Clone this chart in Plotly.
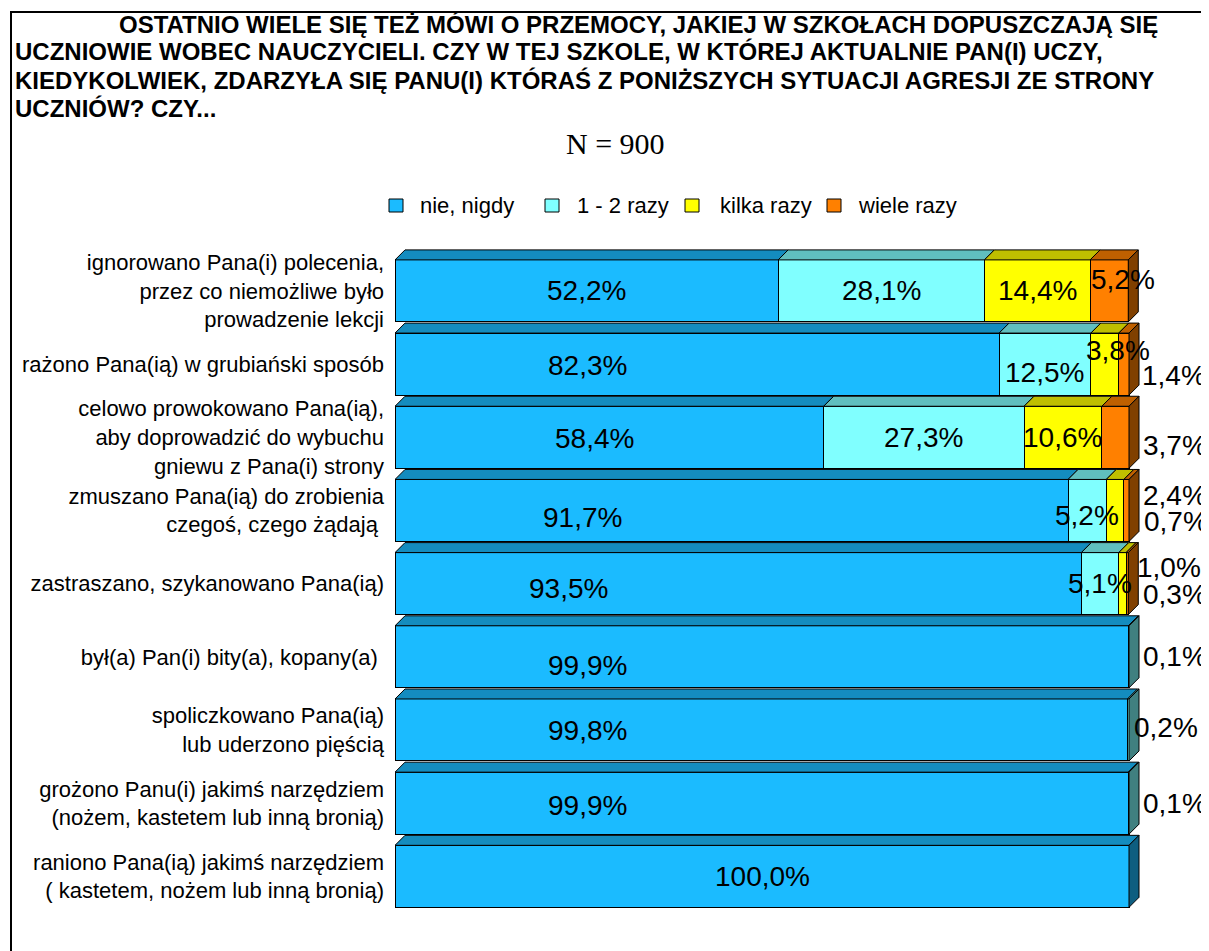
import plotly.graph_objects as go

# ---------------- data ----------------
categories = [
    "ignorowano Pana(i) polecenia,<br>przez co niemożliwe było<br>prowadzenie lekcji",
    "rażono Pana(ią) w grubiański sposób",
    "celowo prowokowano Pana(ią),<br>aby doprowadzić do wybuchu<br>gniewu z Pana(i) strony",
    "zmuszano Pana(ią) do zrobienia<br>czegoś, czego żądają ",
    "zastraszano, szykanowano Pana(ią)",
    "był(a) Pan(i) bity(a), kopany(a) ",
    "spoliczkowano Pana(ią)<br>lub uderzono pięścią",
    "grożono Panu(i) jakimś narzędziem<br>(nożem, kastetem lub inną bronią)",
    "raniono Pana(ią) jakimś narzędziem<br>( kastetem, nożem lub inną bronią)",
]
series_names = ["nie, nigdy", "1 - 2 razy", "kilka razy", "wiele razy"]
nie_nigdy = [52.2, 82.3, 58.4, 91.7, 93.5, 99.9, 99.8, 99.9, 100.0]
raz_1_2 = [28.1, 12.5, 27.3, 5.2, 5.1, 0.1, 0.2, 0.1, 0.0]
kilka_razy = [14.4, 3.8, 10.6, 2.4, 1.0, 0.0, 0.0, 0.0, 0.0]
wiele_razy = [5.2, 1.4, 3.7, 0.7, 0.3, 0.0, 0.0, 0.0, 0.0]

title_lines = [
    "OSTATNIO WIELE SIĘ TEŻ MÓWI O PRZEMOCY, JAKIEJ W SZKOŁACH DOPUSZCZAJĄ SIĘ",
    "UCZNIOWIE WOBEC NAUCZYCIELI. CZY W TEJ SZKOLE, W KTÓREJ AKTUALNIE PAN(I) UCZY,",
    "KIEDYKOLWIEK, ZDARZYŁA SIĘ PANU(I) KTÓRAŚ Z PONIŻSZYCH SYTUACJI AGRESJI ZE STRONY",
    "UCZNIÓW? CZY...",
]
subtitle = "N = 900"

series_values = [nie_nigdy, raz_1_2, kilka_razy, wiele_razy]

# ---------------- styling / layout constants ----------------
front_colors = ["#1BBBFF", "#80FFFF", "#FFFF00", "#FF8000"]
top_colors = ["#148CBF", "#60BFBF", "#BFBF00", "#BF6000"]
side_colors = ["#0E5E80", "#408080", "#808000", "#804000"]
SANS = "Liberation Sans, Arial, sans-serif"
SERIF = "Liberation Serif, Times New Roman, serif"

PAGE_OFF = 8                                 # default body margin of the page
W, H = 1209, 951                             # window size (page pixels)
L, RP, T, B = 395, 1199, 240, 930            # plot area in page pixels
PX_PER_PCT = 7.34
ROW0_PX = 290.9
ROW_PITCH = 73.18
plot_w = RP - L
plot_h = B - T
x_range = [0, plot_w / PX_PER_PCT]
y_top = (T - ROW0_PX) / ROW_PITCH
y_bot = (B - ROW0_PX) / ROW_PITCH
bar_w = 62 / ROW_PITCH
dx = 10 / PX_PER_PCT
dy = 10 / ROW_PITCH


def xp(px):
    return (px - L) / plot_w


def yp(py):
    return (B - py) / plot_h


# label placement: (row, series) -> (x in %, or None = segment centre; vertical pixel offset, + is down)
label_place = {
    (0, 3): (99.2, -11),
    (1, 0): (26.2, 1), (1, 1): (None, 8), (1, 2): (98.5, -14), (1, 3): (106.1, 11),
    (2, 0): (27.2, 1), (2, 3): (106.3, 8),
    (3, 0): (25.5, 7), (3, 1): (None, 5), (3, 2): (106.3, -15), (3, 3): (106.4, 11),
    (4, 0): (23.6, 5), (4, 2): (105.4, -16), (4, 3): (106.2, 11),
    (5, 0): (26.2, 9), (5, 1): (106.2, 0),
    (6, 0): (26.2, 1), (6, 1): (105.0, -2),
    (7, 0): (26.2, 2), (7, 1): (106.2, 0),
}

rows = list(range(len(categories)))

fig = go.Figure()
for s, (name, vals) in enumerate(zip(series_names, series_values)):
    fig.add_trace(go.Bar(
        y=rows,
        x=[v if v > 0 else None for v in vals],
        orientation="h",
        name=name,
        width=bar_w,
        marker=dict(color=front_colors[s], line=dict(color="black", width=1)),
        showlegend=False,
        hoverinfo="skip",
    ))

shapes = []
annotations = []

# 3-D top and side faces, derived from the data
for i in rows:
    top = i - bar_w / 2
    bot = i + bar_w / 2
    x0 = 0.0
    last = None
    for s, vals in enumerate(series_values):
        v = vals[i]
        if v <= 0:
            continue
        x1 = x0 + v
        shapes.append(dict(
            type="path", xref="x", yref="y",
            path=f"M{x0},{top} L{x0 + dx},{top - dy} L{x1 + dx},{top - dy} L{x1},{top} Z",
            fillcolor=top_colors[s], line=dict(color="black", width=1),
        ))
        last = (s, x1)
        x0 = x1
    if last is not None:
        s, xe = last
        shapes.append(dict(
            type="path", xref="x", yref="y",
            path=f"M{xe},{top} L{xe + dx},{top - dy} L{xe + dx},{bot - dy} L{xe},{bot} Z",
            fillcolor=side_colors[s], line=dict(color="black", width=1),
        ))

# value labels
for i in rows:
    x0 = 0.0
    for s, vals in enumerate(series_values):
        v = vals[i]
        if v <= 0:
            continue
        centre = x0 + v / 2
        x0 += v
        px_x, off = label_place.get((i, s), (None, 0))
        annotations.append(dict(
            x=centre if px_x is None else px_x, y=i, xref="x", yref="y",
            text=f"{v:.1f}%".replace(".", ","), showarrow=False,
            font=dict(family=SANS, size=28, color="black"),
            xanchor="center", yanchor="middle", yshift=-off,
        ))

# title
title_pos = [(117, 24), (13, 52), (13, 80), (13, 108)]
for line, (tx, ty) in zip(title_lines, title_pos):
    annotations.append(dict(
        x=xp(tx), y=yp(ty), xref="paper", yref="paper",
        text=f"<b>{line}</b>", showarrow=False,
        font=dict(family=SANS, size=24, color="black"),
        xanchor="left", yanchor="middle",
    ))
annotations.append(dict(
    x=xp(615), y=yp(143), xref="paper", yref="paper", text=subtitle,
    showarrow=False, font=dict(family=SERIF, size=30, color="black"),
    xanchor="center", yanchor="middle",
))

# legend (manual, to match original spacing)
legend_sq_x = [389, 545, 685, 827]
legend_txt_x = [418, 575, 718, 856]
leg_y = 205
for s, name in enumerate(series_names):
    shapes.append(dict(
        type="rect", xref="paper", yref="paper",
        x0=xp(legend_sq_x[s]), x1=xp(legend_sq_x[s] + 14),
        y0=yp(leg_y - 6), y1=yp(leg_y + 7),
        fillcolor=front_colors[s], line=dict(color="black", width=1),
    ))
    annotations.append(dict(
        x=xp(legend_txt_x[s]), y=yp(leg_y), xref="paper", yref="paper",
        text=name, showarrow=False,
        font=dict(family=SANS, size=22, color="black"),
        xanchor="left", yanchor="middle",
    ))

# outer frame
shapes.append(dict(
    type="rect", xref="paper", yref="paper",
    x0=xp(11), x1=xp(1240), y0=yp(12), y1=yp(990),
    line=dict(color="black", width=2), fillcolor="rgba(0,0,0,0)",
))

fig_w, fig_h = W - PAGE_OFF, H - PAGE_OFF
fig.update_layout(
    width=fig_w, height=fig_h,
    margin=dict(l=L - PAGE_OFF, r=fig_w - (RP - PAGE_OFF), t=T - PAGE_OFF,
                b=fig_h - (B - PAGE_OFF), autoexpand=False),
    barmode="stack",
    paper_bgcolor="white", plot_bgcolor="white",
    shapes=shapes, annotations=annotations,
    showlegend=False,
    xaxis=dict(range=x_range, visible=False, showgrid=False, zeroline=False, fixedrange=True),
    yaxis=dict(
        range=[y_bot, y_top], tickmode="array", tickvals=rows, ticktext=categories,
        showgrid=False, zeroline=False, showline=False, ticks="",
        ticklabelstandoff=10, automargin=False,
        tickfont=dict(family=SANS, size=22, color="black"),
    ),
)

fig.write_html("out.html")
